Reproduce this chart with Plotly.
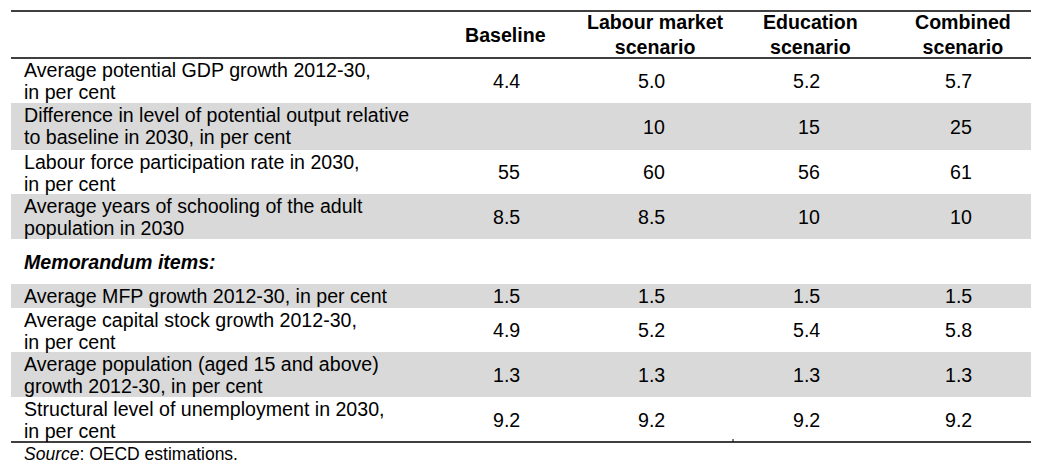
import plotly.graph_objects as go

# ---- data ----
columns = ["Baseline", "Labour market<br>scenario", "Education<br>scenario", "Combined<br>scenario"]
row_labels = [
    ["Average potential GDP growth 2012-30,", "in per cent"],
    ["Difference in level of potential output relative", "to baseline in 2030, in per cent"],
    ["Labour force participation rate in 2030,", "in per cent"],
    ["Average years of schooling of the adult", "population in 2030"],
    ["Average MFP growth 2012-30, in per cent"],
    ["Average capital stock growth 2012-30,", "in per cent"],
    ["Average population (aged 15 and above)", "growth 2012-30, in per cent"],
    ["Structural level of unemployment in 2030,", "in per cent"],
]
baseline = ["4.4", "", "55", "8.5", "1.5", "4.9", "1.3", "9.2"]
labour = ["5.0", "10", "60", "8.5", "1.5", "5.2", "1.3", "9.2"]
education = ["5.2", "15", "56", "10", "1.5", "5.4", "1.3", "9.2"]
combined = ["5.7", "25", "61", "10", "1.5", "5.8", "1.3", "9.2"]
memo_label = "Memorandum items:"
source_note = "<i>Source</i>: OECD estimations."

# ---- layout geometry (screen pixels; page body has an 8px margin) ----
W, H = 1045, 473
OFF = 8
X0, X1 = 11, 1031
LABEL_X = 22
COL_X = [505, 655, 810, 963]        # header centres
VAL_RIGHT = [522, 667, 822, 974]    # right edges of values
TOP, HEAD_BOT = 11, 58
row_bounds = [(58, 103), (103, 150), (150, 194), (194, 239),
              (284, 308), (308, 352), (352, 397), (397, 442)]
gray_rows = [1, 3, 4, 6]
MEMO_Y = 262
SOURCE_Y = 454
FONT = "Liberation Sans, Arial, sans-serif"
FS = 19.6
GRAY = "#d9d9d9"

fig = go.Figure()
shapes = []
annotations = []

for i in gray_rows:
    t, b = row_bounds[i]
    shapes.append(dict(type="rect", xref="x", yref="y", x0=X0, x1=X1, y0=t, y1=b,
                       fillcolor=GRAY, line=dict(width=0), layer="below"))

for y in (TOP, HEAD_BOT, 442):
    shapes.append(dict(type="line", xref="x", yref="y", x0=X0, x1=X1, y0=y, y1=y,
                       line=dict(color="black", width=1.6)))
shapes.append(dict(type="line", xref="x", yref="y", x0=733, x1=733, y0=439, y1=442,
                   line=dict(color="black", width=1)))

# headers
for cx, name in zip(COL_X, columns):
    annotations.append(dict(x=cx, y=(TOP + HEAD_BOT) / 2, xref="x", yref="y",
                            text=f"<b>{name}</b>", showarrow=False, xanchor="center",
                            yanchor="middle", font=dict(family=FONT, size=FS, color="black")))

series = [baseline, labour, education, combined]
for i, (lines, (t, b)) in enumerate(zip(row_labels, row_bounds)):
    if len(lines) == 1:
        ys = [(t + b) / 2]
    else:
        ys = [t + 12, t + 34]
    for ln, yy in zip(lines, ys):
        annotations.append(dict(x=LABEL_X, y=yy, xref="x", yref="y", text=ln, showarrow=False,
                                xanchor="left", yanchor="middle",
                                font=dict(family=FONT, size=FS, color="black")))
    for rx, s in zip(VAL_RIGHT, series):
        if s[i]:
            annotations.append(dict(x=rx, y=(t + b) / 2, xref="x", yref="y", text=s[i],
                                    showarrow=False, xanchor="right", yanchor="middle",
                                    font=dict(family=FONT, size=FS, color="black")))

annotations.append(dict(x=LABEL_X, y=MEMO_Y, xref="x", yref="y", text=f"<b><i>{memo_label}</i></b>",
                        showarrow=False, xanchor="left", yanchor="middle",
                        font=dict(family=FONT, size=FS, color="black")))
annotations.append(dict(x=LABEL_X, y=SOURCE_Y, xref="x", yref="y", text=source_note,
                        showarrow=False, xanchor="left", yanchor="middle",
                        font=dict(family=FONT, size=17.5, color="black")))

fw, fh = W - 2 * OFF, H - 2 * OFF
fig.update_layout(
    width=fw, height=fh, margin=dict(l=0, r=0, t=0, b=0),
    paper_bgcolor="white", plot_bgcolor="white",
    xaxis=dict(range=[OFF, OFF + fw], visible=False, fixedrange=True),
    yaxis=dict(range=[OFF + fh, OFF], visible=False, fixedrange=True),
    shapes=shapes, annotations=annotations, showlegend=False,
)
fig.write_html("out.html")
